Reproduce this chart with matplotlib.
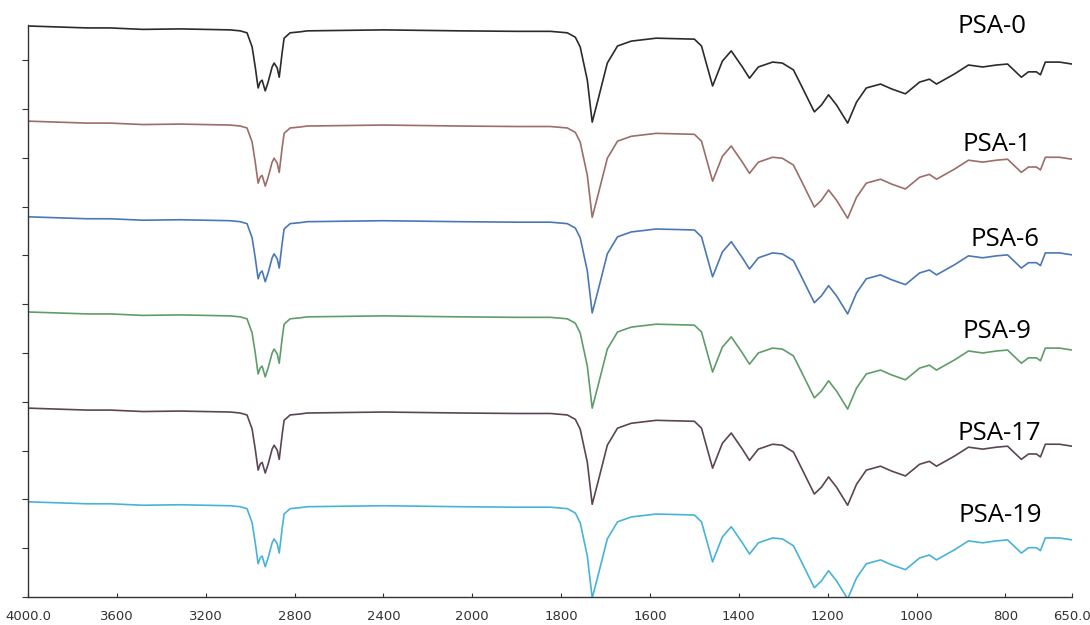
import matplotlib
matplotlib.use('Agg')
import matplotlib.pyplot as plt
import numpy as np

# wavenumbers (cm-1) and absorption depth (axis units below its 4000 baseline)
wavenumber = [4000, 3734, 3631, 3482, 3315, 3090, 3045, 3014, 2991, 2977,
              2964, 2955, 2946, 2932, 2919, 2901, 2892, 2878, 2869, 2856,
              2847, 2820, 2775, 2743, 2400, 2054, 1900, 1824, 1786, 1768,
              1757, 1741, 1730, 1716, 1696, 1673, 1642, 1586, 1500, 1484,
              1459, 1437, 1417, 1392, 1376, 1356, 1324, 1302, 1277, 1261,
              1230, 1214, 1198, 1180, 1155, 1135, 1113, 1081, 1056, 1025,
              993, 971, 955, 914, 883, 851, 820, 795, 764, 748,
              730, 721, 710, 678, 650]
depth = [0.00, 0.04, 0.04, 0.07, 0.06, 0.08, 0.10, 0.14, 0.43, 0.84,
         1.27, 1.15, 1.11, 1.33, 1.15, 0.84, 0.76, 0.86, 1.05, 0.55,
         0.25, 0.14, 0.12, 0.10, 0.08, 0.10, 0.11, 0.11, 0.14, 0.23,
         0.43, 1.11, 1.97, 1.48, 0.76, 0.41, 0.31, 0.25, 0.27, 0.41,
         1.23, 0.72, 0.51, 0.84, 1.07, 0.84, 0.74, 0.76, 0.90, 1.19,
         1.76, 1.62, 1.41, 1.62, 1.99, 1.56, 1.27, 1.19, 1.29, 1.39,
         1.15, 1.09, 1.19, 0.98, 0.80, 0.84, 0.80, 0.78, 1.05, 0.94,
         0.94, 1.00, 0.74, 0.74, 0.78]

samples = ['PSA-0', 'PSA-1', 'PSA-6', 'PSA-9', 'PSA-17', 'PSA-19']
baselines = [11.70, 9.75, 7.79, 5.84, 3.87, 1.95]  # level of each spectrum at 4000 cm-1
colors = ['#2b2b2b', '#9c6d69', '#4a78b5', '#5f9c6b', '#5b4554', '#48b3d9']

# label positions (wavenumber, y)
label_pos = [(829, 11.68), (818, 9.28), (800, 7.32), (818, 5.43), (813, 3.34), (811, 1.68)]

ticks = [4000, 3600, 3200, 2800, 2400, 2000, 1800, 1600, 1400, 1200, 1000, 800, 650]
tick_labels = ['4000.0', '3600', '3200', '2800', '2400', '2000', '1800',
               '1600', '1400', '1200', '1000', '800', '650.0']


# x axis is compressed above 2000 cm-1 (400 per division, 200 below)
def fwd(w):
    w = np.asarray(w, dtype=float)
    return np.where(w >= 2000, (4000 - w) / 400, 5 + (2000 - w) / 200)


def inv(u):
    u = np.asarray(u, dtype=float)
    return np.where(u <= 5, 4000 - 400 * u, 2000 - 200 * (u - 5))


fig = plt.figure(figsize=(10.9, 6.25), dpi=100)
ax = fig.add_axes([28 / 1090, 28 / 625, 1044 / 1090, 572 / 625])
ax.set_xscale('function', functions=(fwd, inv))

wn = np.array(wavenumber)
d = np.array(depth)
for name, base, c in zip(samples, baselines, colors):
    ax.plot(wn, base - d, color=c, lw=1.2, solid_joinstyle='round')

for name, (x, y) in zip(samples, label_pos):
    ax.text(x, y, name, ha='center', va='center', fontsize=18.5,
            family=['Open Sans', 'DejaVu Sans'], color='black')

ax.set_xlim(650, 4000)
ax.set_ylim(0, 11.72)
ax.set_xticks(ticks)
ax.set_xticklabels(tick_labels, fontsize=9.5)
ax.set_yticks(np.arange(0, 12))
ax.set_yticklabels([])
ax.minorticks_off()
ax.tick_params(axis='x', direction='in', length=3, pad=9, colors='#333333')
ax.tick_params(axis='y', direction='out', length=4, colors='#333333')
for s in ['top', 'right']:
    ax.spines[s].set_visible(False)
for s in ['left', 'bottom']:
    ax.spines[s].set_color('#333333')
    ax.spines[s].set_linewidth(1.0)

fig.savefig('out.png', dpi=100)
